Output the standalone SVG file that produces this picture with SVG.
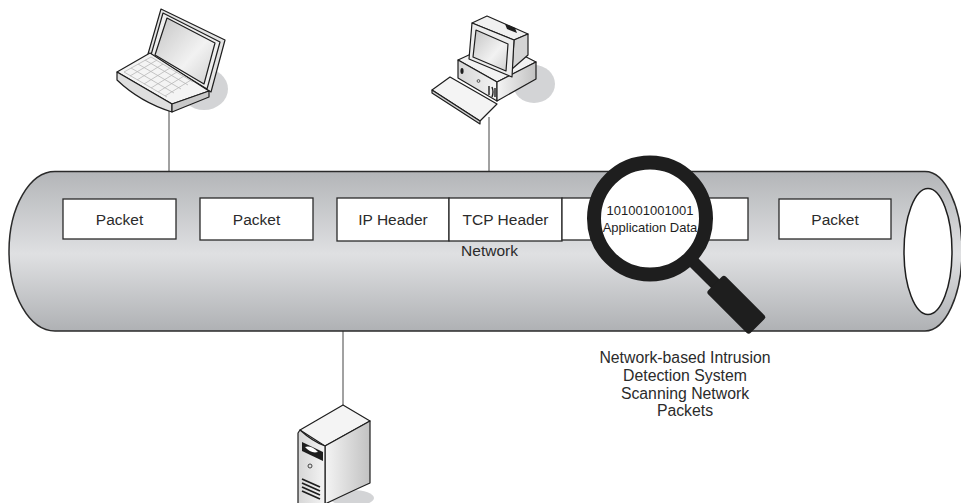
<svg xmlns="http://www.w3.org/2000/svg" width="961" height="503" viewBox="0 0 961 503">
  <defs>
    <linearGradient id="tubeGrad" x1="0" y1="171" x2="0" y2="331" gradientUnits="userSpaceOnUse">
      <stop offset="0" stop-color="#b3b5b8"/>
      <stop offset="0.52" stop-color="#dfe0e2"/>
      <stop offset="1" stop-color="#afb1b4"/>
    </linearGradient>
    <linearGradient id="screenGrad" x1="0" y1="0" x2="1" y2="1">
      <stop offset="0" stop-color="#c4c4c4"/>
      <stop offset="0.6" stop-color="#f2f2f2"/>
      <stop offset="1" stop-color="#d0d0d0"/>
    </linearGradient>
    <linearGradient id="sideGrad" x1="0" y1="0" x2="1" y2="0">
      <stop offset="0" stop-color="#f4f4f4"/>
      <stop offset="1" stop-color="#c2c2c2"/>
    </linearGradient>
    <linearGradient id="frontGrad" x1="0" y1="0" x2="1" y2="0">
      <stop offset="0" stop-color="#d6d6d6"/>
      <stop offset="1" stop-color="#f4f4f4"/>
    </linearGradient>
  </defs>
  <style>
    .lbl { font-family: "Liberation Sans", Arial, sans-serif; font-size: 15.5px; fill: #2b2b2b; text-anchor: middle; }
    .cap { font-family: "Liberation Sans", Arial, sans-serif; font-size: 15.8px; fill: #2b2b2b; text-anchor: middle; }
    .mag { font-family: "Liberation Sans", Arial, sans-serif; font-size: 13px; fill: #1e1e1e; text-anchor: middle; }
    .box { fill: #ffffff; stroke: #2a2a2a; stroke-width: 1.3; }
    .dev { stroke: #1e1e1e; stroke-width: 1.2; stroke-linejoin: round; }
    .link { stroke: #444; stroke-width: 1; fill: none; }
    .shadow { fill: #d3d4d6; }
  </style>

  <rect width="961" height="503" fill="#ffffff"/>

  <!-- links from each host down/up to the network pipe -->
  <g id="connectors">
    <line class="link" x1="169" y1="110" x2="169" y2="172"/>
    <line class="link" x1="489" y1="117" x2="489" y2="172"/>
    <line class="link" x1="343" y1="331" x2="343" y2="406"/>
  </g>

  <!-- network pipe -->
  <g id="network">
    <path d="M55,171.5 L925,171.5 A37,79.75 0 0 1 925,331 L55,331 A46,79.75 0 0 1 55,171.5 Z" fill="url(#tubeGrad)" stroke="#2a2a2a" stroke-width="1.5"/>
    <ellipse cx="928" cy="251.5" rx="24" ry="63" fill="#ffffff" stroke="#1e1e1e" stroke-width="1.5"/>
    <text class="lbl" x="489.5" y="256">Network</text>
  </g>

  <!-- packets travelling in the pipe -->
  <g id="packet1">
    <rect class="box" x="63" y="199" width="113" height="40"/>
    <text class="lbl" x="119.5" y="225">Packet</text>
  </g>
  <g id="packet2">
    <rect class="box" x="200" y="198" width="113" height="42"/>
    <text class="lbl" x="256.5" y="225">Packet</text>
  </g>
  <g id="ip-header">
    <rect class="box" x="337" y="198" width="112" height="43"/>
    <text class="lbl" x="393" y="225">IP Header</text>
  </g>
  <g id="tcp-header">
    <rect class="box" x="449" y="198" width="113" height="43"/>
    <text class="lbl" x="505.5" y="225">TCP Header</text>
  </g>
  <g id="app-data">
    <rect class="box" x="562" y="198" width="186" height="42"/>
  </g>
  <g id="packet5">
    <rect class="box" x="779" y="199" width="112" height="40"/>
    <text class="lbl" x="835" y="225">Packet</text>
  </g>

  <!-- magnifying glass (the IDS) -->
  <g id="ids">
    <g transform="translate(650,218.5) rotate(45)">
      <rect x="55" y="-6" width="42" height="12" fill="#1e1e1e"/>
      <rect x="92" y="-12.5" width="60" height="25" rx="3" fill="#1e1e1e"/>
    </g>
    <circle cx="650" cy="218.5" r="56" fill="#ffffff" stroke="#1e1e1e" stroke-width="14"/>
    <text class="mag" x="650" y="215">101001001001</text>
    <text class="mag" x="650" y="232">Application Data</text>
    <text class="cap" x="685" y="363">Network-based Intrusion</text>
    <text class="cap" x="685" y="381">Detection System</text>
    <text class="cap" x="685" y="398.5">Scanning Network</text>
    <text class="cap" x="685" y="416">Packets</text>
  </g>

  <!-- laptop -->
  <g id="laptop">
    <ellipse class="shadow" cx="204" cy="89" rx="24" ry="21"/>
    <polygon class="dev" points="161,9 225,40 211,92 148,54" fill="#e4e4e4"/>
    <polygon class="dev" points="163,13 220,42 207,89 151,55" fill="#efefef" stroke-width="0.8"/>
    <polygon class="dev" points="167,18 215,43 204,84 155,55" fill="url(#screenGrad)"/>
    <polygon class="dev" points="117,72 150,53 209,91 172,104" fill="#f4f4f4"/>
    <g stroke="#b8b8b8" stroke-width="0.8" fill="none">
      <path d="M124,72 L151,57 M130,76 L157,60 M137,80 L163,64 M144,84 L170,68 M151,88 L177,72 M158,92 L184,76 M165,96 L191,80"/>
      <path d="M124,72 L167,97 M131,68 L174,93 M138,64 L181,89 M145,60 L188,85 M151,57 L193,82"/>
    </g>
    <path class="dev" d="M117,72 L172,104 L172,112 Q140,102 117,80 Z" fill="#dedede"/>
    <polygon class="dev" points="172,104 209,91 209,97 172,112" fill="#c9c9c9"/>
  </g>

  <!-- desktop workstation -->
  <g id="desktop">
    <ellipse class="shadow" cx="534" cy="84" rx="21" ry="19"/>
    <polygon class="dev" points="458,60 497,82 536,62 497,42" fill="#f2f2f2"/>
    <polygon class="dev" points="458,60 497,82 497,101 458,78" fill="url(#frontGrad)"/>
    <polygon class="dev" points="497,82 536,62 536,79 497,101" fill="url(#sideGrad)"/>
    <ellipse cx="462" cy="71" rx="1.6" ry="3" fill="#1e1e1e"/>
    <circle cx="478.5" cy="81" r="1.4" fill="none" stroke="#333" stroke-width="0.8"/>
    <path d="M489,86 L489,95 M492,87 Q494,92 492,97 M495,88 L495,97" stroke="#1e1e1e" stroke-width="1.4" fill="none"/>
    <polygon class="dev" points="472,23 487,16 528,34 514,40" fill="#f0f0f0"/>
    <polygon class="dev" points="514,40 528,34 528,55 512,69" fill="#d4d4d4"/>
    <polygon points="505,24 515,28 517,33 507,29" fill="#1e1e1e"/>
    <polygon class="dev" points="472,23 514,40 512,77 469,59" fill="#ececec"/>
    <polygon class="dev" points="476,30 508,44 506,71 473,57" fill="url(#screenGrad)"/>
    <polygon class="dev" points="432,90 450,77 497,104 480,121" fill="#f4f4f4"/>
    <polygon class="dev" points="432,90 480,121 480,124 432,93" fill="#d0d0d0" stroke-width="0.8"/>
  </g>

  <!-- server -->
  <g id="server">
    <ellipse class="shadow" cx="352" cy="498" rx="22" ry="8"/>
    <polygon class="dev" points="343,405 370,421 325,446 300,430" fill="#f4f4f4"/>
    <path class="dev" d="M325,446 L370,421 L370,483 Q350,492 325,504 Z" fill="url(#sideGrad)"/>
    <path class="dev" d="M300,430 Q312,441 325,446 L325,504 L298,504 L298,433 Z" fill="url(#frontGrad)"/>
    <polygon points="302,442 323,452 323,461 302,451" fill="#1e1e1e"/>
    <path d="M305,447 Q311,445 318,452 Q311,454 305,447 Z" fill="#ffffff"/>
    <circle cx="310" cy="466" r="2" fill="none" stroke="#333" stroke-width="0.9"/>
    <path d="M302,479 L320,487 M302,483 L320,491 M302,487 L320,495 M302,491 L320,499" stroke="#1e1e1e" stroke-width="1.8" fill="none"/>
  </g>
</svg>
